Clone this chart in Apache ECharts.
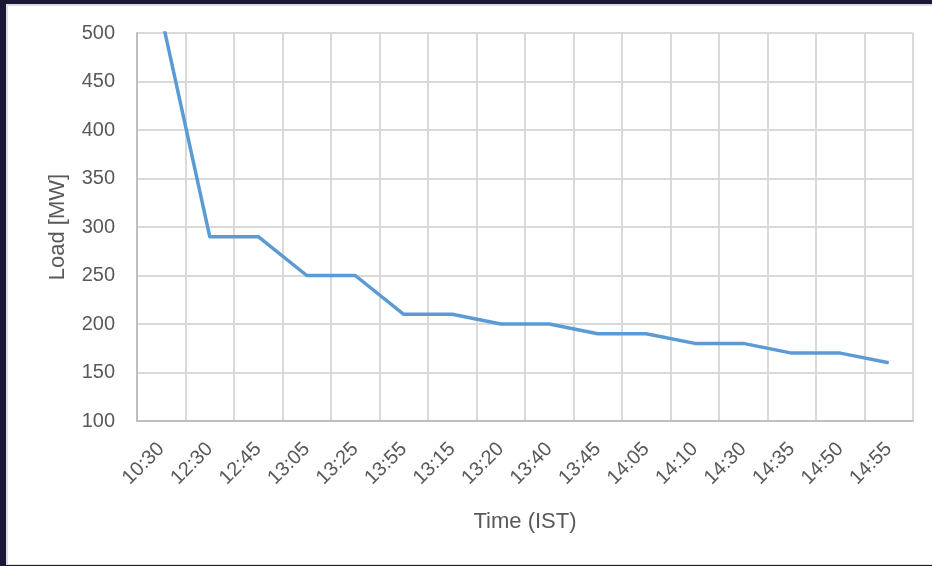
<!DOCTYPE html>
<html>
<head>
<meta charset="utf-8">
<script src="https://cdn.jsdelivr.net/npm/echarts@6/dist/echarts.min.js"></script>
<style>
  html, body { margin: 0; padding: 0; width: 932px; height: 566px; background: #1b1734; overflow: hidden; }
  #sheet { position: absolute; left: 6px; top: 4px; width: 926px; height: 561px;
           background: #ffffff; border-left: 2px solid #dedede; border-top: 2px solid #dedede;
           border-bottom: 1px solid #dedede; box-sizing: border-box; }
  #chart { position: absolute; left: 0; top: 0; width: 932px; height: 566px; }
</style>
</head>
<body>
<div id="sheet"></div>
<div id="chart"></div>
<script>
// Time stamps (IST) of each load reading, in the order they were logged
const times = ['10:30', '12:30', '12:45', '13:05', '13:25', '13:55', '13:15', '13:20',
               '13:40', '13:45', '14:05', '14:10', '14:30', '14:35', '14:50', '14:55'];
// Load in MW at each time stamp (the first reading runs above the axis top)
const loadMW = [518, 290, 290, 250, 250, 210, 210, 200, 200, 190, 190, 180, 180, 170, 170, 160];
// Value axis range and step
const yMin = 100;
const yMax = 500;
const yStep = 50;

const textColor = '#595959';
const font = '"Liberation Sans", Arial, sans-serif';

const chart = echarts.init(document.getElementById('chart'), null, { renderer: 'canvas' });
chart.setOption({
  backgroundColor: 'transparent',
  animation: false,
  grid: { left: 137, right: 19, top: 33, bottom: 145, containLabel: false },
  xAxis: {
    type: 'category',
    data: times,
    boundaryGap: true,
    name: 'Time (IST)',
    nameLocation: 'middle',
    nameGap: 90,
    nameTextStyle: { color: textColor, fontSize: 22, fontFamily: font },
    axisLine: { show: true, lineStyle: { color: '#bfbfbf', width: 2 } },
    axisTick: { show: false },
    axisLabel: { rotate: 45, margin: 25, color: textColor, fontSize: 20, fontFamily: font, interval: 0 },
    splitLine: { show: true, interval: 0, lineStyle: { color: '#d9d9d9', width: 2 } }
  },
  yAxis: {
    type: 'value',
    min: yMin,
    max: yMax,
    interval: yStep,
    name: 'Load [MW]',
    nameLocation: 'middle',
    nameGap: 68,
    nameTextStyle: { color: textColor, fontSize: 22, fontFamily: font },
    axisLine: { show: true, lineStyle: { color: '#bfbfbf', width: 2 } },
    axisTick: { show: false },
    axisLabel: { margin: 22, color: textColor, fontSize: 20, fontFamily: font },
    splitLine: { show: true, lineStyle: { color: '#d9d9d9', width: 2 } }
  },
  series: [{
    type: 'line',
    data: loadMW,
    clip: true,
    symbol: 'none',
    lineStyle: { color: '#5b9bd5', width: 3.5, join: 'round' }
  }]
});
</script>
</body>
</html>
